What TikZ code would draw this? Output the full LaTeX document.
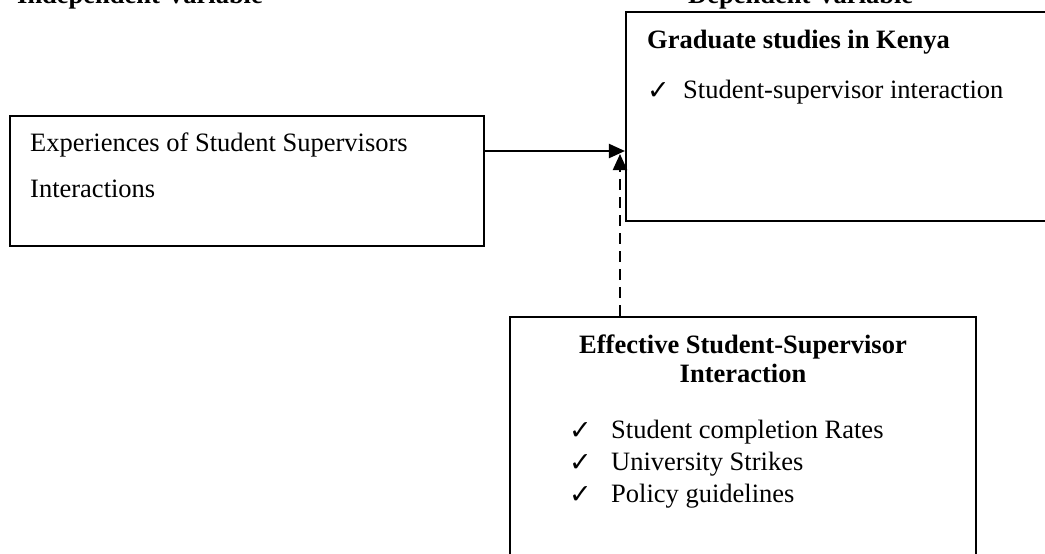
\documentclass[tikz,border=0pt]{standalone}
\usepackage{fontspec}
\setmainfont{Liberation Serif}
\newfontfamily\dejavu{DejaVu Sans}
\usetikzlibrary{arrows.meta}
\tikzset{
  box/.style={draw, line width=2.1pt, rectangle, inner sep=0pt},
  txt/.style={inner sep=0pt, anchor=base west, font=\fontsize{26.5}{30}\selectfont},
  btxt/.style={inner sep=0pt, anchor=base west, font=\fontsize{26.5}{30}\selectfont\bfseries},
  ctxt/.style={inner sep=0pt, anchor=base, font=\fontsize{26.5}{30}\selectfont\bfseries},
  chk/.style={inner sep=0pt, anchor=base west, font=\dejavu\fontsize{27}{28}\selectfont},
  conn/.style={line width=2.1pt, -{Triangle[length=16pt,width=14pt]}},
  dconn/.style={line width=2.1pt, dash pattern=on 11pt off 7pt, -{Triangle[length=16pt,width=14pt]}}
}
\begin{document}
\begin{tikzpicture}[x=1pt,y=-1pt]
\useasboundingbox (0,0) rectangle (1045,554);
\clip (0,0) rectangle (1045,554);
% headings (cut off at the top edge, as in the reference)
\node[btxt] (hind) at (17,4) {Independent Variable};
\node[btxt] (hdep) at (688,4) {Dependent Variable};
% boxes
\node[box, minimum width=474.3pt, minimum height=130pt] (ind) at (246.85,181) {};
\node[box, minimum width=434pt, minimum height=209pt] (dep) at (843,116.5) {};
\node[box, minimum width=466pt, minimum height=253pt] (mod) at (743,443.5) {};
% left box text
\node[txt] (t1) at (30,151) {Experiences of Student Supervisors};
\node[txt] (t2) at (30,197) {Interactions};
% dependent box text
\node[btxt] (g1) at (647,48) {Graduate studies in Kenya};
\node[chk] (gc) at (647,99) {✓};
\node[txt] (g2) at (683,98) {Student-supervisor interaction};
% moderating box text
\node[ctxt] (m1) at (743,353) {Effective Student-Supervisor};
\node[ctxt] (m2) at (743,382) {Interaction};
\node[chk] (c1) at (569,439) {✓};
\node[txt] (i1) at (611,438) {Student completion Rates};
\node[chk] (c2) at (569,471) {✓};
\node[txt] (i2) at (611,470) {University Strikes};
\node[chk] (c3) at (569,503) {✓};
\node[txt] (i3) at (611,502) {Policy guidelines};
% connectors
\coordinate (ay) at (0,151);
\coordinate (dtip) at (620,154);
\draw[conn] (ind.east |- ay) -- (dep.west |- ay);
\draw[dconn] (mod.north -| dtip) -- (dtip);
\end{tikzpicture}
\end{document}
